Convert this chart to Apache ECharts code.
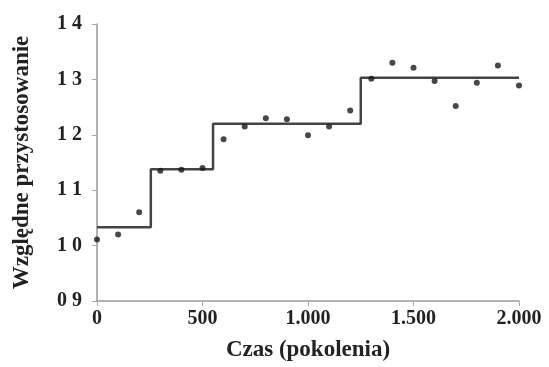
<!DOCTYPE html>
<html><head><meta charset="utf-8">
<script src="https://cdn.jsdelivr.net/npm/echarts@6/dist/echarts.min.js"></script>
<style>html,body{margin:0;padding:0;background:#fff}#c{width:549px;height:367px}</style>
</head><body><div id="c"></div>
<script>
const generations = [0,100,200,300,400,500,600,700,800,900,1000,1100,1200,1300,1400,1500,1600,1700,1800,1900,2000];
const fitness = [1.011,1.020,1.060,1.135,1.137,1.140,1.192,1.215,1.230,1.228,1.199,1.215,1.244,1.301,1.330,1.321,1.297,1.252,1.294,1.325,1.289];
const stepBreaks = [0,255,550,1250,2000];
const stepLevels = [1.033,1.138,1.220,1.303];
const xTickLabels = {0:'0',500:'500',1000:'1.000',1500:'1.500',2000:'2.000'};
const yTickLabels = ['0 9','1 0','1 1','1 2','1 3','1 4'];

const stepData = [];
for (let i = 0; i < stepLevels.length; i++) {
  stepData.push([stepBreaks[i], stepLevels[i]]);
  stepData.push([stepBreaks[i+1], stepLevels[i]]);
}
const font = 'Liberation Serif';
const chart = echarts.init(document.getElementById('c'));
chart.setOption({
  animation:false,
  grid:{left:97,right:30,top:24,bottom:64},
  xAxis:{type:'value',min:0,max:2000,interval:500,
    name:'Czas (pokolenia)',nameLocation:'middle',nameGap:38,
    nameTextStyle:{fontFamily:font,fontWeight:'bold',fontSize:23,color:'#222'},
    axisLine:{lineStyle:{color:'#999',width:1.5}},
    axisTick:{show:true,length:5,lineStyle:{color:'#aaa'}},
    splitLine:{show:false},
    axisLabel:{margin:8,fontFamily:font,fontWeight:'bold',fontSize:20,color:'#222',
      formatter:v=>xTickLabels[v]}},
  yAxis:{type:'value',min:0.9,max:1.4,interval:0.1,
    name:'Względne przystosowanie',nameLocation:'middle',nameGap:63,
    nameTextStyle:{fontFamily:font,fontWeight:'bold',fontSize:23,color:'#222'},
    axisLine:{show:true,lineStyle:{color:'#999',width:1.5}},
    axisTick:{show:true,length:5,lineStyle:{color:'#aaa'}},
    splitLine:{show:false},
    axisLabel:{margin:15,fontFamily:font,fontWeight:'bold',fontSize:20,color:'#222',
      formatter:v=>yTickLabels[Math.round((v-0.9)*10)]}},
  series:[
    {type:'line',data:stepData,showSymbol:false,symbol:'none',
      lineStyle:{color:'#444',width:2.5},z:2},
    {type:'scatter',data:generations.map((g,i)=>[g,fitness[i]]),symbolSize:6,
      itemStyle:{color:'#1a1a1a'},z:3}
  ]
});
</script></body></html>
